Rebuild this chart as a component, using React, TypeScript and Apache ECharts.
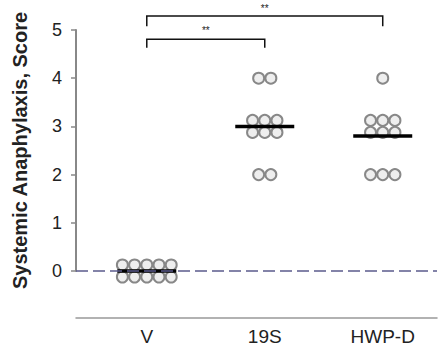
import React, { useEffect, useRef } from "react";
import * as echarts from "echarts";

const categories = ["V", "19S", "HWP-D"];
const scoresV = [0, 0, 0, 0, 0, 0, 0, 0, 0, 0];
const scores19S = [4, 4, 3, 3, 3, 3, 3, 3, 2, 2];
const scoresHWPD = [4, 3, 3, 3, 3, 3, 3, 2, 2, 2];
const groups = [scoresV, scores19S, scoresHWPD];
const yTicks = [0, 1, 2, 3, 4, 5];
// significance brackets: [fromGroup, toGroup, level]
const brackets = [
  [0, 1, 0],
  [0, 2, 1],
];
const bracketLabels = ["**", "**"];

const FONT = "'Liberation Sans', Arial, sans-serif";

function buildPoints() {
  const pts: any[] = [];
  groups.forEach((scores, gi) => {
    const byScore: Record<number, number> = {};
    scores.forEach((s) => (byScore[s] = (byScore[s] || 0) + 1));
    Object.keys(byScore).forEach((k) => {
      const s = Number(k);
      const n = byScore[s];
      const rows = n > 3 ? 2 : 1;
      const perRow = Math.ceil(n / rows);
      for (let i = 0; i < n; i++) {
        const r = Math.floor(i / perRow);
        const c = i % perRow;
        const cnt = Math.min(perRow, n - r * perRow);
        const dx = (c - (cnt - 1) / 2) * 12.2;
        const dy = rows === 2 ? (r === 0 ? -6 : 6) : 0;
        pts.push({ value: [gi, s], symbolOffset: [dx, dy] });
      }
    });
  });
  return pts;
}

export default function App() {
  const ref = useRef<HTMLDivElement>(null);
  useEffect(() => {
    document.body.style.margin = "0";
    if (!ref.current) return;
    const chart = echarts.init(ref.current, undefined, { renderer: "svg" });
    const means = groups.map(
      (g, i) => [i, g.reduce((a, b) => a + b, 0) / g.length]
    );
    const levels = [
      { line: 4.81, end: 4.63, star: 5.0 },
      { line: 5.29, end: 5.08, star: 5.44 },
    ];
    chart.setOption({
      animation: false,
      grid: { left: 76, right: 1, top: 30, bottom: 78 },
      xAxis: {
        type: "value",
        min: -0.6,
        max: 2.46,
        offset: 47,
        axisLine: { show: true, onZero: false, lineStyle: { color: "#999", width: 1.5 } },
        axisTick: { show: false },
        splitLine: { show: false },
        axisLabel: {
          customValues: [0, 1, 2],
          formatter: (v: number) => categories[Math.round(v)] ?? "",
          fontSize: 19,
          color: "#222",
          fontFamily: FONT,
          margin: 9,
        },
      },
      yAxis: {
        type: "value",
        min: 0,
        max: 5,
        interval: 1,
        name: "Systemic Anaphylaxis, Score",
        nameLocation: "middle",
        nameGap: 46,
        nameTextStyle: {
          fontSize: 20,
          fontWeight: "bold",
          color: "#222",
          fontFamily: FONT,
        },
        axisLine: { show: true, onZero: false, lineStyle: { color: "#888", width: 2 } },
        axisTick: { show: true, length: 5, lineStyle: { color: "#888", width: 1.5 } },
        splitLine: { show: false },
        axisLabel: {
          customValues: yTicks,
          fontSize: 18,
          color: "#222",
          fontFamily: FONT,
          margin: 14,
        },
      },
      series: [
        {
          type: "custom",
          z: 1,
          clip: false,
          silent: true,
          data: brackets,
          renderItem: (params: any, api: any) => {
            const a = api.value(0);
            const b = api.value(1);
            const lv = levels[api.value(2)];
            const p1 = api.coord([a, lv.end]);
            const p2 = api.coord([a, lv.line]);
            const p3 = api.coord([b, lv.line]);
            const p4 = api.coord([b, lv.end]);
            const ps = api.coord([(a + b) / 2, lv.star]);
            return {
              type: "group",
              children: [
                {
                  type: "polyline",
                  shape: { points: [p1, p2, p3, p4] },
                  style: { stroke: "#111", lineWidth: 1.5, fill: null },
                },
                {
                  type: "text",
                  x: ps[0],
                  y: ps[1],
                  style: {
                    text: bracketLabels[params.dataIndex],
                    fontSize: 10,
                    fill: "#222",
                    align: "center",
                    verticalAlign: "middle",
                    fontFamily: FONT,
                  },
                },
              ],
            };
          },
          markLine: {
            silent: true,
            symbol: "none",
            label: { show: false },
            lineStyle: { color: "#5b5b8c", width: 1.5, type: [12, 5] },
            data: [{ yAxis: 0 }],
          },
        },
        {
          type: "scatter",
          z: 3,
          clip: false,
          symbol: "circle",
          symbolSize: 11,
          itemStyle: { color: "#eeeeee", borderColor: "#888", borderWidth: 2, opacity: 1 },
          data: buildPoints(),
        },
        {
          type: "scatter",
          z: 4,
          clip: false,
          symbol: "rect",
          symbolSize: [59, 3.5],
          itemStyle: { color: "#000", opacity: 1 },
          data: means,
        },
      ],
    });
    return () => chart.dispose();
  }, []);
  return <div ref={ref} style={{ width: 438, height: 349 }} />;
}
